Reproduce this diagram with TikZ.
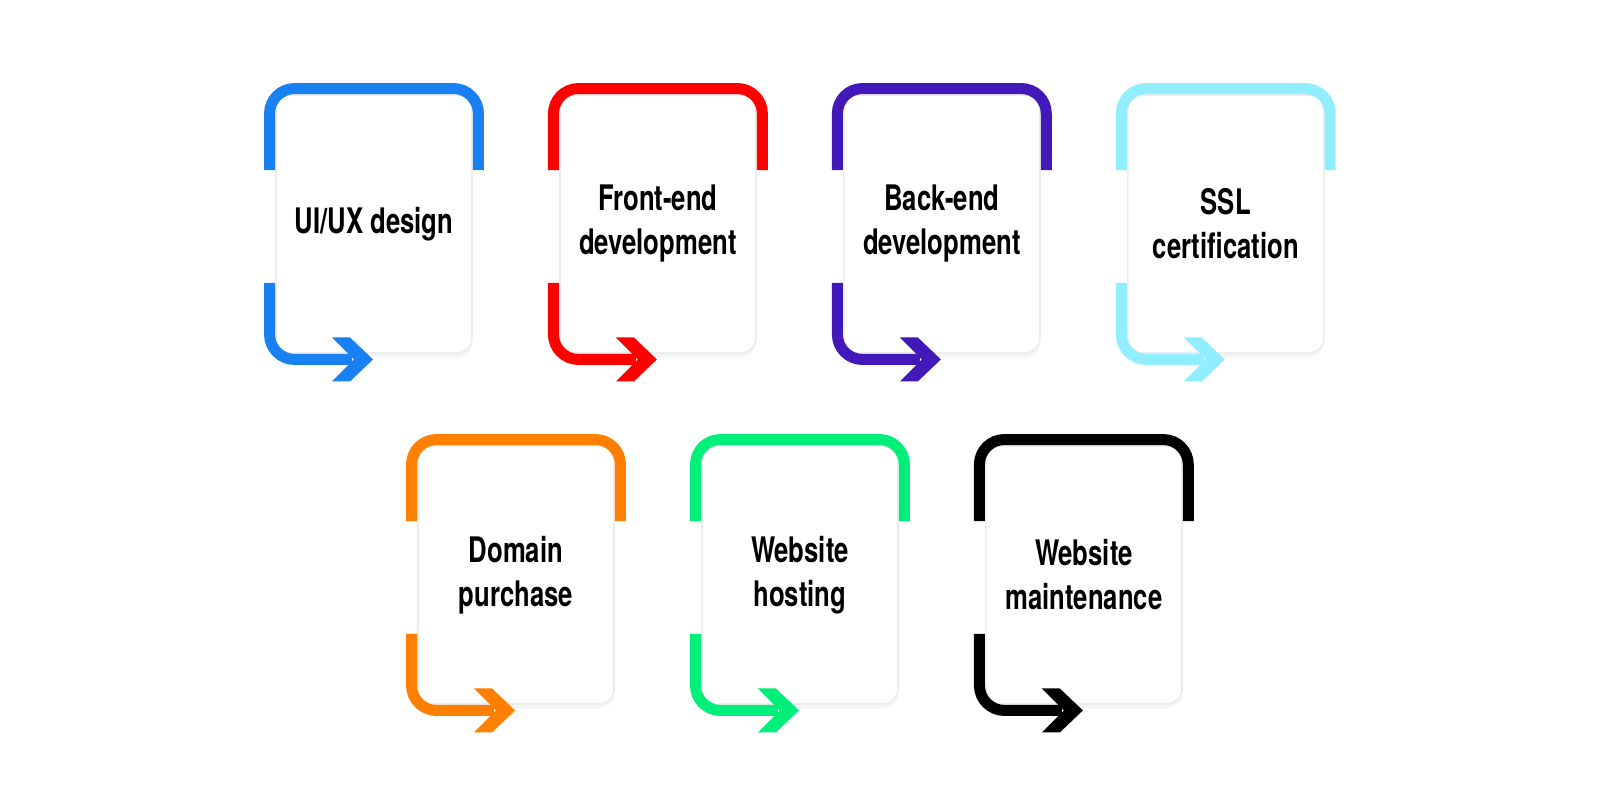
\documentclass[tikz,border=0pt]{standalone}
\usepackage{fontspec}
\setmainfont{TeX Gyre Heros}[FakeStretch=0.73]
\usepackage{tikz}
\usetikzlibrary{positioning,calc,shadows}
\definecolor{uiblue}{RGB}{24,128,240}
\definecolor{frontred}{RGB}{255,0,0}
\definecolor{backpurple}{RGB}{66,24,184}
\definecolor{sslcyan}{RGB}{145,238,255}
\definecolor{domainorange}{RGB}{255,128,0}
\definecolor{hostgreen}{RGB}{0,238,122}
\definecolor{maintblack}{RGB}{0,0,0}

\begin{document}
\begin{tikzpicture}[x=0.01cm,y=0.01cm,node distance=0.86cm,every node/.style={font=\bfseries\fontsize{10}{12.5}\selectfont},
card/.style={rectangle,rounded corners=0.15cm,fill=white,draw=black!7,line width=0.5pt,minimum width=1.96cm,minimum height=2.58cm,align=center,inner sep=0pt,drop shadow={opacity=0.08,shadow xshift=0pt,shadow yshift=-1.2pt}},
frame/.style={line width=0.11cm,rounded corners=0.25cm}]
\useasboundingbox (0,0) rectangle (1600,800);
% first row
\node[card](ui) at (374,576){UI/UX design};
\node[card,right=of ui](front){Front-end\\development};
\node[card,right=of front](back){Back-end\\development};
\node[card,right=of back](ssl){SSL\\certification};
% second row
\node[card](domain) at (516,225){Domain\\purchase};
\node[card,right=of domain](hosting){Website\\hosting};
\node[card,right=of hosting](maint){Website\\maintenance};
% frames and arrows
\foreach \n/\c in {ui/uiblue,front/frontred,back/backpurple,ssl/sslcyan,domain/domainorange,hosting/hostgreen,maint/maintblack}{
\draw[frame,\c]($(\n.north west)+(-5.5,-76)$)--($(\n.north west)+(-5.5,5.5)$)--($(\n.north east)+(5.5,5.5)$)--($(\n.north east)+(5.5,-76)$);
\draw[frame,\c]($(\n.south west)+(-5.5,71)$)--($(\n.south west)+(-5.5,-5.5)$)--($(\n.south)+(-22,-5.5)$);
\fill[\c]($(\n.south)+(-42,16.5)$)--($(\n.south)+(-24,16.5)$)--($(\n.south)+(-1,-5.5)$)--($(\n.south)+(-24,-27.5)$)--($(\n.south)+(-42,-27.5)$)--($(\n.south)+(-20,-5.5)$)--cycle;
}
\end{tikzpicture}
\end{document}
